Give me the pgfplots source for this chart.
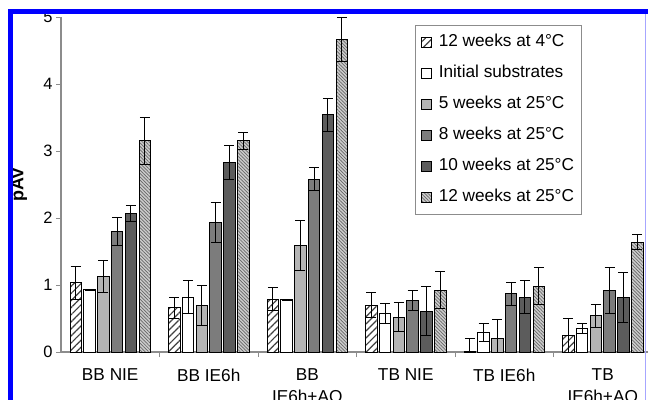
\documentclass[border=0pt]{standalone}
\usepackage{fontspec}
\setmainfont{Liberation Sans}
\usepackage{pgfplots}
\pgfplotsset{compat=1.18}
\usetikzlibrary{patterns.meta}
\definecolor{cA}{HTML}{B4B4B4}
\definecolor{cB}{HTML}{7C7C7C}
\definecolor{cC}{HTML}{5C5C5C}
\definecolor{cD}{HTML}{CCCCCC}
\definecolor{axgray}{HTML}{8C8C8C}
\begin{document}
\begin{tikzpicture}
\useasboundingbox (0,0) rectangle (648bp,400bp);
\clip (0,0) rectangle (648bp,400bp);
\begin{axis}[
  at={(61bp,48bp)}, anchor=south west,
  scale only axis, width=591bp, height=335bp,
  xmin=-0.5, xmax=5.5, ymin=0, ymax=5,
  axis x line=bottom, axis y line=left,
  axis line style={axgray, line width=1.1bp, -},
  ybar=2.3bp, bar width=11.5bp,
  ytick={0,1,2,3,4,5},
  xtick={0,1,2,3,4,5},
  xticklabels={BB NIE, BB IE6h, {BB\\IE6h+AQ}, TB NIE, TB IE6h, {TB\\IE6h+AQ}},
  minor xtick={0.5,1.5,2.5,3.5,4.5},
  tick align=outside,
  major tick length=5bp, minor tick length=5bp,
  major x tick style={draw=none},
  tick style={axgray, line width=1bp},
  /pgf/number format/assume math mode=true,
  yticklabel style={font=\fontsize{16.5}{19}\selectfont, color=black},
  xticklabel style={font=\fontsize{17.3}{22.5}\selectfont, align=center, anchor=north, yshift=-8bp, color=black},
  ylabel={\textbf{pAV}},
  ylabel style={font=\fontsize{18}{20}\selectfont, at={(axis description cs:0,0.5)}, yshift=42bp, anchor=center},
  legend style={at={(axis description cs:0.599,0.976)}, anchor=north west,
    draw=axgray, line width=0.9bp, font=\fontsize{17.3}{20}\selectfont,
    row sep=12.5bp, inner xsep=6bp, inner ysep=7.5bp,
    nodes={text height=12bp, text depth=3.5bp, inner sep=1.5bp},
    /tikz/every odd column/.append style={column sep=5bp}},
  legend cell align=left,
  legend image code/.code={\draw[#1, draw=black, line width=0.8bp] (0bp,-5bp) rectangle (10bp,5bp);},
  error bars/y dir=both, error bars/y explicit,
  error bars/error bar style={black, line width=1bp},
  error bars/error mark options={rotate=90, mark size=5bp, black, line width=1bp},
]
\addplot[draw=black, line width=1bp, fill=white, postaction={pattern={Lines[angle=45,distance=5bp,line width=1.2bp]}, pattern color=black!75}]
  table[x=x, y=y, y error=e] {
x y e
0 1.03 0.24
1 0.66 0.16
2 0.79 0.17
3 0.70 0.19
4 0.01 0.19
5 0.25 0.25
};
\addlegendentry{12 weeks at 4°C}
\addplot[draw=black, line width=1bp, fill=white]
  table[x=x, y=y, y error=e] {
x y e
0 0.93 0.01
1 0.82 0.25
2 0.78 0.01
3 0.57 0.15
4 0.29 0.14
5 0.35 0.08
};
\addlegendentry{Initial substrates}
\addplot[draw=black, line width=1bp, fill=cA]
  table[x=x, y=y, y error=e] {
x y e
0 1.13 0.24
1 0.69 0.30
2 1.59 0.37
3 0.52 0.22
4 0.20 0.29
5 0.54 0.17
};
\addlegendentry{5 weeks at 25°C}
\addplot[draw=black, line width=1bp, fill=cB]
  table[x=x, y=y, y error=e] {
x y e
0 1.80 0.21
1 1.93 0.30
2 2.58 0.17
3 0.77 0.15
4 0.87 0.17
5 0.92 0.34
};
\addlegendentry{8 weeks at 25°C}
\addplot[draw=black, line width=1bp, fill=cC]
  table[x=x, y=y, y error=e] {
x y e
0 2.07 0.12
1 2.83 0.25
2 3.54 0.25
3 0.61 0.37
4 0.82 0.24
5 0.81 0.37
};
\addlegendentry{10 weeks at 25°C}
\addplot[draw=black, line width=1bp, fill=cD, postaction={pattern={Lines[angle=-45,distance=2.4bp,line width=0.7bp]}, pattern color=black!60}]
  table[x=x, y=y, y error=e] {
x y e
0 3.15 0.35
1 3.15 0.13
2 4.66 0.33
3 0.925 0.27
4 0.985 0.28
5 1.64 0.11
};
\addlegendentry{12 weeks at 25°C}
\end{axis}
\fill[blue] (8.3bp,0) rectangle (12.7bp,391bp);
\fill[blue] (8.3bp,386bp) rectangle (648bp,391bp);
\draw[blue!35, line width=1bp] (645.7bp,0) -- (645.7bp,386bp);
\end{tikzpicture}
\end{document}
